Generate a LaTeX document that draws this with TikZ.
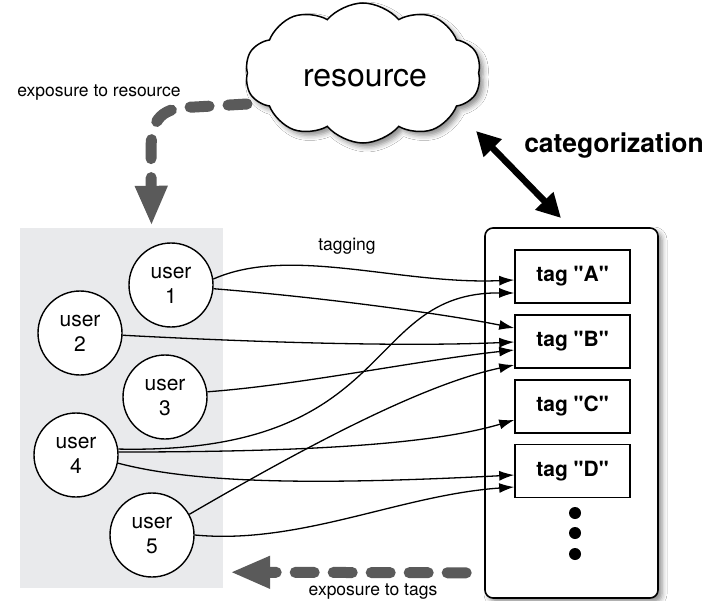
\documentclass[tikz,border=0pt]{standalone}
\usepackage{fontspec}
\setmainfont{TeX Gyre Heros}
\usetikzlibrary{arrows.meta,shapes.symbols,shadows.blur,calc}
\definecolor{panelgray}{HTML}{E9EAEC}
\definecolor{arrowgray}{HTML}{5A5A5A}
\newcommand{\tagname}[1]{tag \textquotedbl#1\textquotedbl}
\begin{document}
\begin{tikzpicture}[x=1pt,y=-1pt,
  user/.style={circle, draw, line width=1.4pt, fill=white, minimum size=84pt,
    inner sep=0pt, align=center, font=\fontsize{21}{25}\selectfont},
  tagbox/.style={draw, line width=1.6pt, fill=white, minimum width=115pt,
    minimum height=53pt, inner sep=0pt, font=\bfseries\fontsize{21}{25}\selectfont},
  link/.style={line width=1.3pt, -{Latex[length=15pt,width=10pt]}},
  expo/.style={draw=arrowgray, line width=11pt, line cap=round,
    dash pattern=on 19pt off 19pt, -{Triangle[length=40pt,width=30pt]}},
  catarrow/.style={line width=6.5pt, {Triangle[length=24pt,width=24pt]}-{Triangle[length=24pt,width=24pt]}},
  lbl/.style={font=\fontsize{17.5}{20}\selectfont},
  softshadow/.style={blur shadow={shadow xshift=4pt, shadow yshift=-4pt,
    shadow blur radius=5pt, shadow opacity=45}}
]
% canvas
\fill[white] (0,0) rectangle (708,601);
\useasboundingbox (0,0) rectangle (708,601);

% user area
\node[fill=panelgray, minimum width=203pt, minimum height=360pt, inner sep=0pt] (up) at (121.5,408) {};

% tag container
\node[draw, line width=1.6pt, rounded corners=8pt, fill=white, minimum width=173pt,
  minimum height=370pt, inner sep=0pt, softshadow] (tp) at (571.5,413) {};

% dashed exposure arrow from the resource
\draw[expo] (363,73) ++(-116,31) coordinate (resout) -- (195,107)
  .. controls (162,107) and (151,118) .. (151,150) -- ($(up.north)+(30,-2)$);

% resource cloud
\node[cloud, draw, line width=1.5pt, fill=white, cloud puffs=10, cloud puff arc=100,
  aspect=1.45, minimum width=236pt, minimum height=140pt, inner sep=0pt, softshadow] (cl) at (363,73) {};
\node[font=\fontsize{32}{36}\selectfont] (res) at (365,78) {resource};

% users
\node[user] (u1) at (171,285) {user\\1};
\node[user] (u2) at (80,333) {user\\2};
\node[user] (u3) at (165,397) {user\\3};
\node[user] (u4) at (76,455) {user\\4};
\node[user] (u5) at (152,535) {user\\5};

% tags
\node[tagbox] (tA) at (572.5,276.5) {\tagname{A}};
\node[tagbox] (tB) at (572.5,341.5) {\tagname{B}};
\node[tagbox] (tC) at (572.5,406.5) {\tagname{C}};
\node[tagbox] (tD) at (572.5,471) {\tagname{D}};
\fill (575,513) circle (6pt) (575,533) circle (6pt) (575,554) circle (6pt);

% categorization
\coordinate (catA) at (476,131);
\coordinate (catB) at (561,218);
\draw[catarrow] (catA) -- (catB);
\node[font=\bfseries\fontsize{26.5}{30}\selectfont] (cat) at (614,146) {categorization};

% tagging links
\draw[link] (u1.8) .. controls (290,245) and (400,285) .. ($(tA.west)+(0,3.5)$);
\draw[link] (u1.-5) .. controls (330,298) and (450,315) .. ($(tB.west)+(0,-13.5)$);
\draw[link] (u2.-3) .. controls (250,342) and (400,347) .. ($(tB.west)+(0,0.5)$);
\draw[link] (u3.7) .. controls (300,385) and (420,360) .. ($(tB.west)+(0,8.5)$);
\draw[link] (u4.8) .. controls (400,455) and (360,292) .. ($(tA.west)+(0,16.5)$);
\draw[link] (u5.29) .. controls (300,450) and (420,385) .. ($(tB.west)+(0,23.5)$);
\draw[link] (u4.4) .. controls (300,452) and (430,445) .. ($(tC.west)+(0,13.5)$);
\draw[link] (u4.-11) .. controls (190,482) and (300,486) .. ($(tD.west)+(0,4)$);
\draw[link] (u5.0) .. controls (300,545) and (400,495) .. ($(tD.west)+(0,16)$);
\node[lbl] (tagging) at (347,246) {tagging};

% dashed exposure arrow from the tags
\draw[expo] ($(tp.south west)+(-18,-26)$) -- ($(up.south east)+(7,-16)$);

% labels
\node[lbl] (expres) at (99,93) {exposure to resource};
\node[lbl] (exptags) at (373,592) {exposure to tags};
\end{tikzpicture}
\end{document}
